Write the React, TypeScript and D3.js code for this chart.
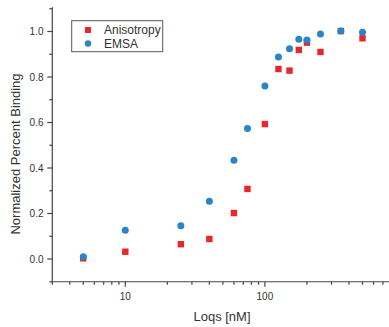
import React from "react";
import * as d3 from "d3";

const concentrations = [5, 10, 25, 40, 60, 75, 100, 125, 150, 175, 200, 250, 350, 500];
const anisotropy = [0.003, 0.032, 0.065, 0.088, 0.202, 0.308, 0.593, 0.835, 0.828, 0.919, 0.951, 0.91, 1.002, 0.97];
const emsa = [0.01, 0.126, 0.146, 0.254, 0.434, 0.574, 0.76, 0.888, 0.924, 0.966, 0.963, 0.989, 1.002, 0.997];
const yTickLabels = ["0.0", "0.2", "0.4", "0.6", "0.8", "1.0"];
const yTickValues = [0, 0.2, 0.4, 0.6, 0.8, 1.0];
const yMinorValues = [-0.1, 0.1, 0.3, 0.5, 0.7, 0.9, 1.1];
const xTickValues = [10, 100];
const xMinorValues = [3, 4, 5, 6, 7, 8, 9, 20, 30, 40, 50, 60, 70, 80, 90, 200, 300, 400, 500, 600, 700, 800];
const seriesNames = ["Anisotropy", "EMSA"];
const xTitle = "Loqs [nM]";
const yTitle = "Normalized Percent Binding";

const W = 389;
const H = 327;
const RED = "#e8262b";
const BLUE = "#2a84c8";
const AXIS = "#444";
const TEXT = "#333";
const FONT = "Liberation Sans, Arial, sans-serif";

export default function App() {
  const x = d3.scaleLog().domain([3, 800]).range([52.3, 391]);
  const y = d3.scaleLinear().domain([-0.1, 1.1]).range([281.75, 8.75]);
  const x0 = x.range()[0];
  const yb = y(-0.1);

  return (
    <svg
      width={W}
      height={H}
      style={{ position: "absolute", left: 0, top: 0, background: "#fff" }}
      fontFamily={FONT}
    >
      {/* Y axis */}
      <line x1={x0} x2={x0} y1={yb} y2={y(1.1) - 1.5} stroke={AXIS} strokeWidth={1.2} />
      {yTickValues.map((v, i) => (
        <g key={"yt" + i}>
          <line x1={x0 - 5} x2={x0} y1={y(v)} y2={y(v)} stroke={AXIS} strokeWidth={1.2} />
          <text x={43.5} y={y(v)} dy="0.35em" textAnchor="end" fontSize={10} fill={TEXT}>
            {yTickLabels[i]}
          </text>
        </g>
      ))}
      {yMinorValues.map((v, i) => (
        <line key={"ym" + i} x1={x0 - 3} x2={x0} y1={y(v)} y2={y(v)} stroke={AXIS} strokeWidth={1.2} />
      ))}

      {/* X axis */}
      <line x1={x0} x2={W} y1={yb} y2={yb} stroke={AXIS} strokeWidth={1.2} />
      {xTickValues.map((v) => (
        <g key={"xt" + v}>
          <line x1={x(v)} x2={x(v)} y1={yb} y2={yb + 5} stroke={AXIS} strokeWidth={1.2} />
          <text x={x(v)} y={300} textAnchor="middle" fontSize={10} fill={TEXT}>
            {v}
          </text>
        </g>
      ))}
      {xMinorValues.map((v) => (
        <line key={"xm" + v} x1={x(v)} x2={x(v)} y1={yb} y2={yb + 3} stroke={AXIS} strokeWidth={1.2} />
      ))}

      {/* Titles */}
      <text x={222} y={321} textAnchor="middle" fontSize={13} fill={TEXT}>
        {xTitle}
      </text>
      <text
        transform={`translate(19.5, ${154}) rotate(-90)`}
        textAnchor="middle"
        fontSize={13}
        fill={TEXT}
      >
        {yTitle}
      </text>

      {/* Data */}
      {concentrations.map((c, i) => (
        <rect key={"a" + i} x={x(c) - 3.2} y={y(anisotropy[i]) - 3.2} width={6.4} height={6.4} fill={RED} />
      ))}
      {concentrations.map((c, i) => (
        <circle key={"e" + i} cx={x(c)} cy={y(emsa[i])} r={3.5} fill={BLUE} />
      ))}

      {/* Legend */}
      <rect x={71.7} y={20.7} width={91} height={31} fill="#fff" stroke="#555" strokeWidth={1} />
      <rect x={88 - 3} y={30 - 3} width={6} height={6} fill={RED} />
      <circle cx={88} cy={43.5} r={3.2} fill={BLUE} />
      <text x={104} y={34} fontSize={12} fill={TEXT}>
        {seriesNames[0]}
      </text>
      <text x={104} y={47.7} fontSize={12} fill={TEXT}>
        {seriesNames[1]}
      </text>
    </svg>
  );
}
